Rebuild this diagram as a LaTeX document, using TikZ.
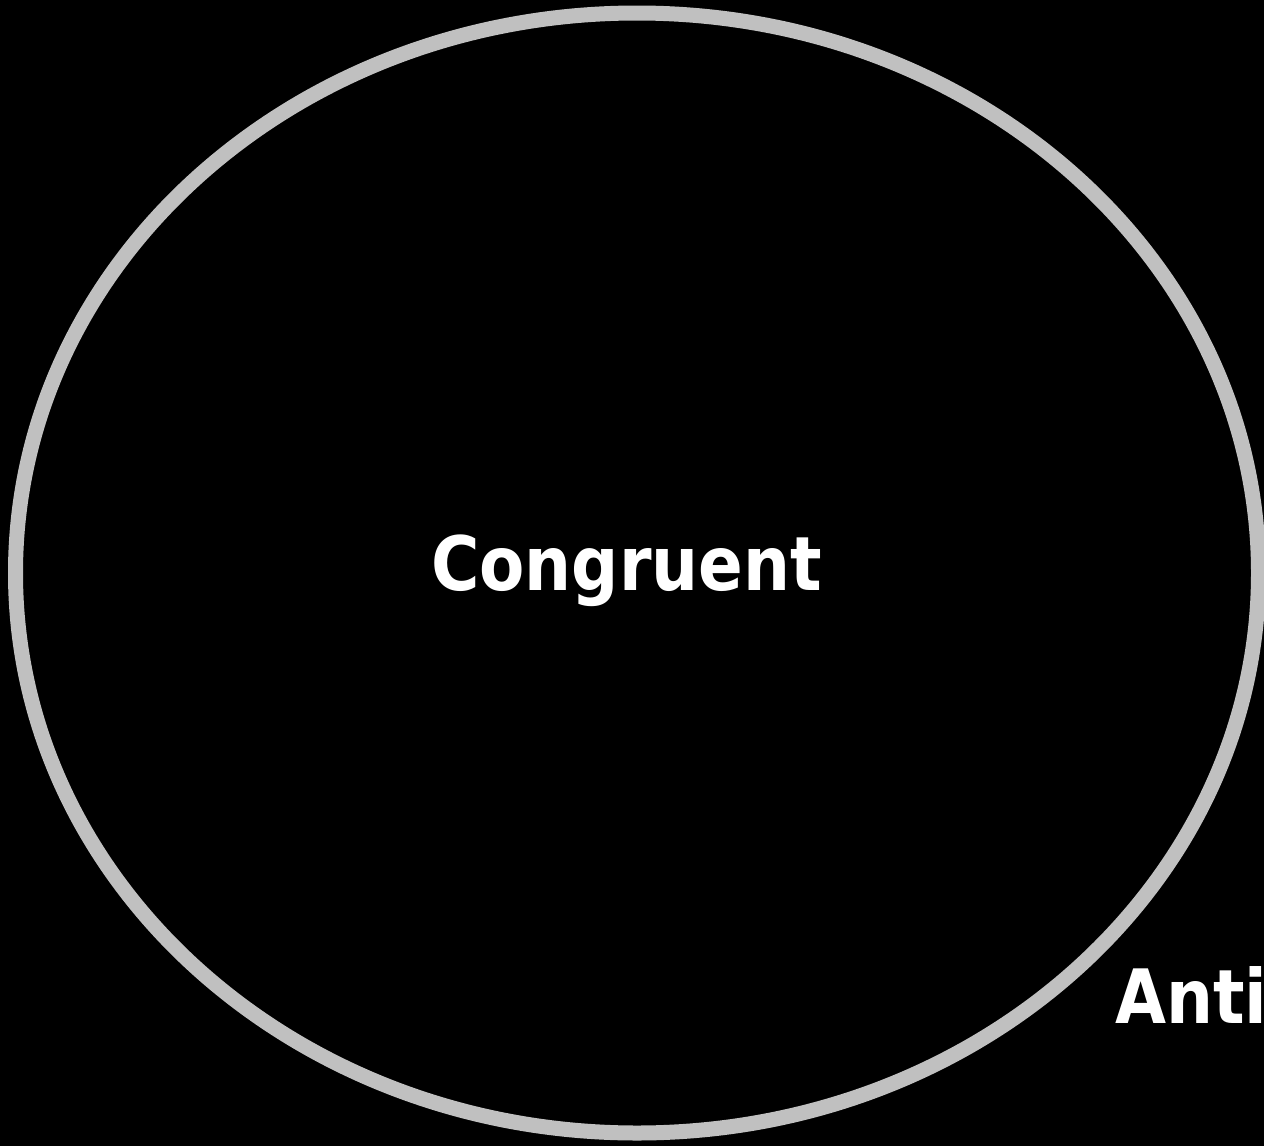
\documentclass[tikz,border=0pt]{standalone}
\usepackage{fontspec}
\setmainfont{DejaVu Sans}
\begin{document}
\begin{tikzpicture}[x=1pt,y=-1pt,
  lbl/.style={text=white,font=\bfseries\fontsize{75}{80}\selectfont,inner sep=0pt,xscale=0.88}]
\fill[black] (0,0) rectangle (1264,1146);
\useasboundingbox (0,0) rectangle (1264,1146);
\draw[color={rgb,255:red,192;green,192;blue,192},line width=15pt] (637,573) ellipse [x radius=621.5,y radius=560];
\node[lbl,anchor=base] (cong) at (626.5,590) {Congruent};
\node[lbl,anchor=base west] (anti) at (1115,1023) {Anti};
\end{tikzpicture}
\end{document}
